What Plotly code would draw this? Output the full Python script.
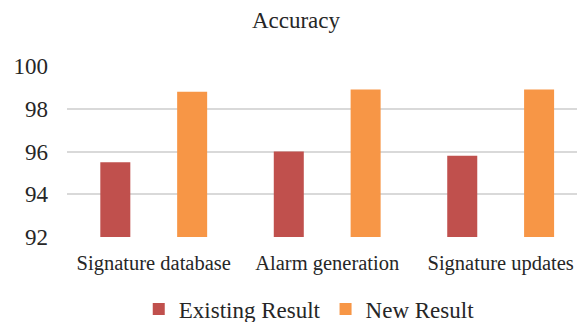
import plotly.graph_objects as go

categories = ["Signature database", "Alarm generation", "Signature updates"]
existing = [95.5, 96.0, 95.8]
new = [98.8, 98.9, 98.9]
yticks = [92, 94, 96, 98, 100]

font = "Liberation Serif, Times New Roman, serif"
fig = go.Figure()
fig.add_trace(go.Bar(x=categories, y=existing, name="Existing Result",
                     marker=dict(color="#C0504D", line=dict(width=0)),
                     offset=-0.308, width=0.173))
fig.add_trace(go.Bar(x=categories, y=new, name="New Result",
                     marker=dict(color="#F79646", line=dict(width=0)),
                     offset=0.135, width=0.173))
fig.update_layout(
    width=577, height=322,
    margin=dict(l=67, r=0, t=66, b=85),
    paper_bgcolor="white", plot_bgcolor="white",
    font=dict(family=font, color="#262626"),
    title=dict(text="Accuracy", x=0.449, xref="paper", xanchor="center", y=0.938, yanchor="middle",
               font=dict(size=23, family=font, color="#262626")),
    xaxis=dict(range=[-0.5, 2.44], showgrid=False, showline=False, ticks="", ticklabelstandoff=11,
               automargin=False, tickfont=dict(size=20.5, family=font, color="#262626")),
    yaxis=dict(range=[92, 100], tickvals=yticks, showgrid=True, gridcolor="#D9D9D9", gridwidth=1.5,
               automargin=False, zeroline=False, showline=False, ticks="", ticklabelstandoff=18,
               tickfont=dict(size=23, family=font, color="#262626")),
    legend=dict(orientation="h", x=0.475, xanchor="center", yref="container", y=0.04, yanchor="middle",
                font=dict(size=23, family=font, color="#262626"), itemwidth=30),
    showlegend=True,
)
fig.write_html("out.html", post_script="document.body.style.margin='0';",
               config={"displayModeBar": False})
